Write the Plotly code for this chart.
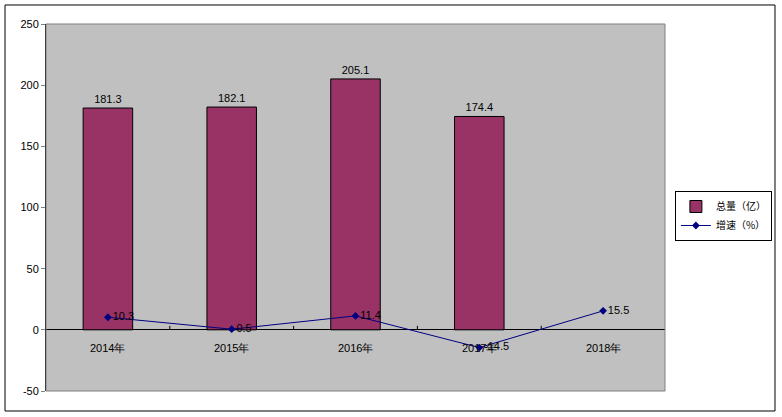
import plotly.graph_objects as go

categories = ["2014年", "2015年", "2016年", "2017年", "2018年"]
total_values = [181.3, 182.1, 205.1, 174.4, None]
growth_values = [10.3, 0.5, 11.4, -14.5, 15.5]
y_ticks = [-50, 0, 50, 100, 150, 200, 250]

font = dict(family="Liberation Sans, Arial, sans-serif", size=11, color="black")
x_idx = list(range(len(categories)))

fig = go.Figure()
fig.add_trace(go.Bar(
    x=x_idx, y=total_values, name="总量（亿）",
    marker=dict(color="#993366", line=dict(color="black", width=1)),
    width=0.4,
    text=[f"{v:.1f}" if v is not None else "" for v in total_values],
    textposition="outside", textfont=font, cliponaxis=False,
))
fig.add_trace(go.Scatter(
    x=x_idx, y=growth_values, name="增速（%）", mode="lines+markers+text",
    line=dict(color="#000080", width=1),
    marker=dict(symbol="diamond", size=6, color="#000080"),
    text=[f"{v:.1f}" for v in growth_values],
    textposition="middle right", textfont=font, cliponaxis=False,
))

# category labels below the zero line
for i, c in enumerate(categories):
    fig.add_annotation(x=i, y=0, text=c, showarrow=False, yshift=-18,
                       font=font, xref="x", yref="y")
# tick marks between categories on zero line
for i in range(len(categories) - 1):
    fig.add_shape(type="line", xref="x", yref="y", x0=i + 0.5, x1=i + 0.5,
                  y0=0, y1=4, ysizemode="pixel", yanchor=0,
                  line=dict(color="black", width=1))

# plot area border
fig.add_shape(type="rect", xref="paper", yref="paper", x0=0, x1=1, y0=0, y1=1,
              line=dict(color="#808080", width=1), layer="above")
# outer chart frame
fig.add_shape(type="rect", xref="paper", yref="paper",
              x0=-0.0662, x1=1.1777, y0=-0.0545, y1=1.0518,
              line=dict(color="black", width=1), layer="above")

fig.update_layout(
    width=782, height=417,
    margin=dict(l=46, r=117, t=24, b=26, autoexpand=False),
    paper_bgcolor="white", plot_bgcolor="#C0C0C0",
    font=font, bargap=0.6,
    showlegend=True,
    legend=dict(x=1.016, y=0.545, xanchor="left", yanchor="top",
                bgcolor="white", bordercolor="black", borderwidth=1,
                font=dict(family="Noto Sans CJK SC, sans-serif", size=10, color="black"),
                itemwidth=30, tracegroupgap=0),
    xaxis=dict(range=[-0.5, 4.5], showticklabels=False, showgrid=False,
               zeroline=False, showline=False, ticks=""),
    yaxis=dict(range=[-50, 250], tickvals=y_ticks,
               ticktext=[str(v) for v in y_ticks], showgrid=False,
               zeroline=True, zerolinecolor="black", zerolinewidth=1,
               showline=True, linecolor="black", linewidth=1,
               ticks="outside", ticklen=4, tickcolor="#808080", tickfont=font),
)

fig.write_html("out.html", config={"displayModeBar": False},
               post_script="document.body.style.margin='0';")
